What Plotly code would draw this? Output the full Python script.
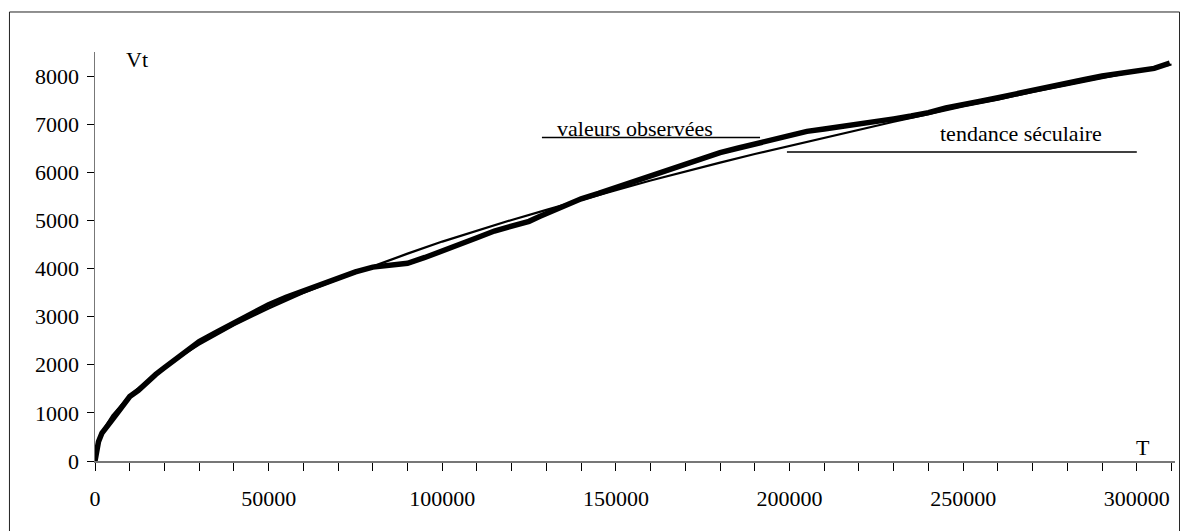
import plotly.graph_objects as go

# ---- data ----
obs_T = [0, 500, 1000, 2000, 3000, 5000, 7500, 10000, 12500, 15000, 17500, 20000,
         22500, 25000, 27500, 30000, 35000, 40000, 45000, 50000, 55000, 60000,
         65000, 70000, 75000, 80000, 85000, 90000, 95000, 100000, 105000, 110000,
         115000, 120000, 125000, 128000, 132000, 136000, 140000, 145000, 150000,
         155000, 160000, 165000, 170000, 175000, 180000, 185000, 190000, 195000,
         200000, 205000, 210000, 215000, 220000, 225000, 230000, 235000, 240000,
         245000, 250000, 255000, 260000, 265000, 270000, 275000, 280000, 285000,
         290000, 295000, 300000, 305000, 309500]
obs_V = [0, 250, 400, 580, 690, 860, 1100, 1340, 1470, 1640, 1800, 1940,
         2080, 2230, 2360, 2480, 2680, 2870, 3060, 3250, 3400, 3540,
         3660, 3800, 3930, 4030, 4070, 4110, 4230, 4360, 4510, 4640,
         4780, 4890, 4980, 5080, 5200, 5330, 5450, 5560, 5680,
         5800, 5910, 6040, 6160, 6300, 6410, 6500, 6590, 6680,
         6770, 6850, 6900, 6950, 6990, 7050, 7110, 7170, 7240,
         7340, 7420, 7480, 7550, 7630, 7710, 7790, 7860, 7930,
         8000, 8050, 8100, 8160, 8270]

trend_T = [0, 1000, 2500, 5000, 10000, 20000, 30000, 40000, 50000, 60000, 70000,
           80000, 90000, 100000, 110000, 120000, 130000, 140000, 150000, 160000,
           170000, 180000, 190000, 200000, 210000, 220000, 230000, 240000, 250000,
           260000, 270000, 280000, 290000, 300000, 310000]
trend_V = [0, 410, 660, 950, 1360, 1960, 2420, 2820, 3170, 3490, 3780,
           4050, 4310, 4560, 4790, 5010, 5220, 5430, 5630, 5830,
           6020, 6200, 6380, 6550, 6720, 6890, 7050, 7210, 7370,
           7510, 7670, 7810, 7960, 8100, 8240]

y_ticks = [0, 1000, 2000, 3000, 4000, 5000, 6000, 7000, 8000]
x_ticks = [0, 50000, 100000, 150000, 200000, 250000, 300000]

label_obs = "valeurs observées"
label_trend = "tendance séculaire"

FONT = "Liberation Serif"
FS = 22

fig = go.Figure()
fig.add_trace(go.Scatter(x=trend_T, y=trend_V, mode="lines",
                         line=dict(color="black", width=2.2),
                         name=label_trend, hoverinfo="skip"))
fig.add_trace(go.Scatter(x=obs_T, y=obs_V, mode="lines",
                         line=dict(color="black", width=5.5),
                         name=label_obs, hoverinfo="skip"))

# leader lines under the labels
fig.add_shape(type="line", xref="x", yref="y", x0=128700, x1=191500, y0=6723, y1=6723,
              line=dict(color="black", width=1.5))
fig.add_shape(type="line", xref="x", yref="y", x0=199250, x1=300000, y0=6424, y1=6424,
              line=dict(color="black", width=1.5))
# outer frame
fig.add_shape(type="rect", xref="paper", yref="paper",
              x0=-0.0792, x1=1.0042, y0=-0.2, y1=1.0978,
              line=dict(color="#222222", width=1), fillcolor="rgba(0,0,0,0)")

fig.add_annotation(x=155490, y=6917, xref="x", yref="y", text=label_obs,
                   showarrow=False, font=dict(family=FONT, size=FS, color="black"))
fig.add_annotation(x=266600, y=6800, xref="x", yref="y", text=label_trend,
                   showarrow=False, font=dict(family=FONT, size=FS, color="black"))
fig.add_annotation(x=12000, y=8340, xref="x", yref="y", text="Vt",
                   showarrow=False, font=dict(family=FONT, size=FS, color="black"))
fig.add_annotation(x=301760, y=280, xref="x", yref="y", text="T",
                   showarrow=False, font=dict(family=FONT, size=FS, color="black"))

fig.update_layout(
    width=1180, height=531,
    margin=dict(l=95, r=5, t=52, b=70),
    paper_bgcolor="white", plot_bgcolor="white",
    showlegend=False,
    font=dict(family=FONT, size=FS, color="black"),
    hovermode=False,
)
fig.update_xaxes(range=[0, 311000], showgrid=False, zeroline=False,
                 showline=True, linecolor="#777777", linewidth=1.5,
                 tickmode="array", tickvals=x_ticks, ticktext=[str(v) for v in x_ticks],
                 ticks="outside", ticklen=8, tickwidth=1, tickcolor="black",
                 ticklabelstandoff=9,
                 minor=dict(dtick=10000, tick0=0, ticks="outside", ticklen=8,
                            tickwidth=1, tickcolor="black", showgrid=False))
fig.update_yaxes(range=[0, 8500], showgrid=False, zeroline=False,
                 showline=True, linecolor="#777777", linewidth=1.5,
                 tickmode="array", tickvals=y_ticks, ticktext=[str(v) for v in y_ticks],
                 ticks="outside", ticklen=7, tickwidth=1, tickcolor="black",
                 ticklabelstandoff=3)

fig.write_html("out.html", config={"displayModeBar": False, "staticPlot": True},
               post_script="document.body.style.margin='0px';")
